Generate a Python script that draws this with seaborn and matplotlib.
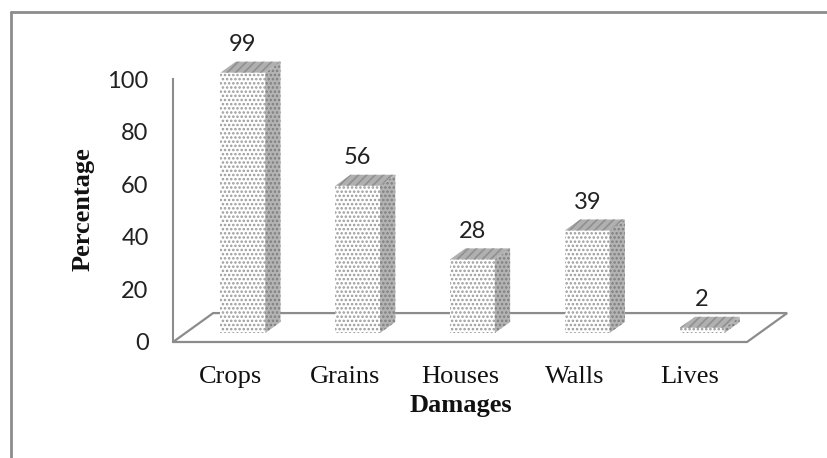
"""Damages chart: Excel-style 3D column look rebuilt with seaborn + patches."""

import matplotlib.pyplot as plt
import pandas as pd
import seaborn as sns
from matplotlib.lines import Line2D
from matplotlib.patches import Polygon

categories = ["Crops", "Grains", "Houses", "Walls", "Lives"]
percentages = [99, 56, 28, 39, 2]
y_ticks = [0, 20, 40, 60, 80, 100]

GRAY = "#8c8c8c"
DEPTH_X = 0.35  # floor depth, category units
DEPTH_Y = 11.0  # floor depth, value units
FRONT, BACK = 0.31, 0.69  # share of the depth where the columns stand

sns.set_style("white")
plt.rcParams["font.family"] = ["Lato", "DejaVu Sans"]
plt.rcParams["hatch.linewidth"] = 1.2

df = pd.DataFrame({"damage": categories, "pct": percentages})

W, H = 827, 458
fig = plt.figure(figsize=(W / 100, H / 100), dpi=100)
ax = fig.add_axes([173 / W, (H - 342) / H, 574 / W, 263 / H])

sns.barplot(
    data=df, x="damage", y="pct", width=0.39, color="white",
    edgecolor="#9a9a9a", linewidth=0, hatch="....", ax=ax, zorder=3,
)

sx, sy = FRONT * DEPTH_X, FRONT * DEPTH_Y
bx, by = (BACK - FRONT) * DEPTH_X, (BACK - FRONT) * DEPTH_Y
bars = list(ax.patches)
for bar, val in zip(bars, percentages):
    bar.set_x(bar.get_x() + sx)
    bar.set_y(bar.get_y() + sy)
    bar.set_clip_on(False)
    x0, y0 = bar.get_x(), bar.get_y()
    x1, y1 = x0 + bar.get_width(), y0 + bar.get_height()
    side = Polygon(
        [(x1, y0), (x1 + bx, y0 + by), (x1 + bx, y1 + by), (x1, y1)],
        facecolor="#b4b4b4", edgecolor="#7e7e7e", linewidth=0,
        hatch="....", zorder=3, clip_on=False,
    )
    top = Polygon(
        [(x0, y1), (x1, y1), (x1 + bx, y1 + by), (x0 + bx, y1 + by)],
        facecolor="#b0b0b0", edgecolor="#909090", linewidth=0,
        hatch="////", zorder=3, clip_on=False,
    )
    ax.add_patch(side)
    ax.add_patch(top)
    ax.text((x0 + x1) / 2, y1 + by + 2.5, str(val), ha="center", va="bottom",
            fontsize=17, color="#222222", clip_on=False)

# floor of the 3D plot
floor = Polygon(
    [(-0.5, 0), (4.5, 0), (4.5 + DEPTH_X, DEPTH_Y), (-0.5 + DEPTH_X, DEPTH_Y)],
    facecolor="none", edgecolor=GRAY, linewidth=1.6, zorder=1, clip_on=False,
)
ax.add_patch(floor)

ax.set_xlim(-0.5, 4.5)
ax.set_ylim(0, 100)
ax.set_yticks(y_ticks)
for side_name in ["top", "right", "bottom"]:
    ax.spines[side_name].set_visible(False)
ax.spines["left"].set_color(GRAY)
ax.spines["left"].set_linewidth(1.5)
ax.tick_params(axis="y", length=6.5, width=1.5, color=GRAY, pad=11,
               labelsize=17, labelcolor="#222222")
ax.tick_params(axis="x", length=0, pad=17)
for lbl in ax.get_xticklabels():
    lbl.set_fontfamily("Liberation Serif")
    lbl.set_fontsize(19)
    lbl.set_color("#111111")

ax.set_xlabel("Damages", fontfamily="Liberation Serif", fontsize=19,
              fontweight="bold", color="#111111")
ax.set_ylabel("Percentage", fontfamily="Liberation Serif", fontsize=19,
              fontweight="bold", color="#111111")
ax.xaxis.set_label_coords(0.502, -0.24)
ax.xaxis.label.set_va("center")
ax.yaxis.set_label_coords(-0.157, 0.506)
ax.yaxis.label.set_va("center")

# chart area border (cropped on the right and bottom)
fig.add_artist(Line2D([11 / W, 1], [1 - 12 / H] * 2, color=GRAY, lw=2))
fig.add_artist(Line2D([11 / W] * 2, [0, 1 - 12 / H], color=GRAY, lw=2))

fig.savefig("out.png", dpi=100)
